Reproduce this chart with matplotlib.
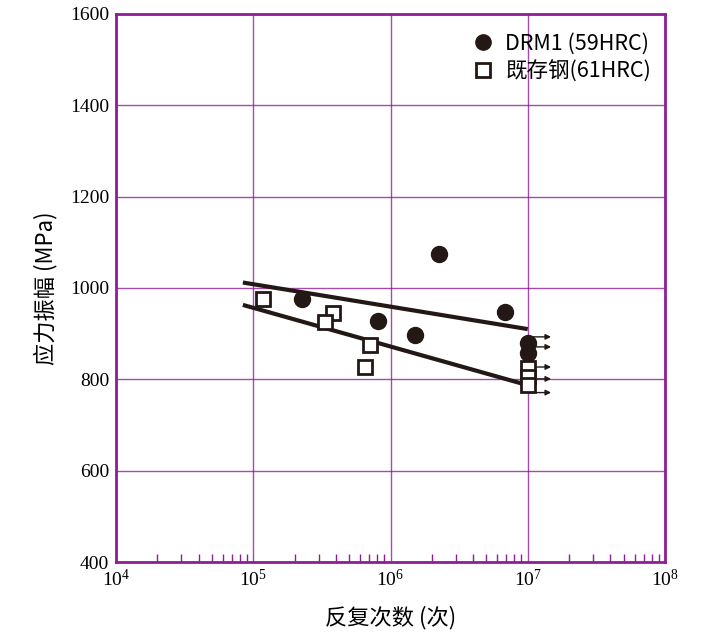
import matplotlib
matplotlib.use("Agg")
import matplotlib.pyplot as plt
import numpy as np
from matplotlib.ticker import LogLocator, FixedLocator, NullFormatter
from matplotlib.lines import Line2D

plt.rcParams['font.family'] = ['Noto Sans CJK SC', 'DejaVu Sans']
plt.rcParams['mathtext.fontset'] = 'stix'

# DRM1 (59HRC)
drm_cycles = [2.27e5, 8.1e5, 1.51e6, 2.25e6, 6.8e6, 1.0e7, 1.0e7]
drm_stress = [976, 928, 897, 1074, 947, 880, 858]
# 既存钢 (61HRC)
old_cycles = [1.18e5, 3.81e5, 3.33e5, 7.1e5, 6.5e5, 1.0e7, 1.0e7, 1.0e7]
old_stress = [976, 945, 925, 875, 827, 825, 805, 787]
# run-outs (arrows) at 1e7
runout_stress = [893, 871, 827, 801, 771]
# fitted lines
drm_fit_x = [8.4e4, 1.0e7]
drm_fit_y = [1012, 910]
old_fit_x = [8.4e4, 9.0e6]
old_fit_y = [963, 791]

legend_labels = ['DRM1 (59HRC)', '既存钢(61HRC)']

purple = '#8e1e96'
ink = '#231815'

fig = plt.figure(figsize=(7.1, 6.39), dpi=100)
ax = fig.add_axes([0.1634, 0.1205, 0.7732, 0.8576])

ax.set_xscale('log')
ax.set_xlim(1e4, 1e8)
ax.set_ylim(400, 1600)

ax.xaxis.set_major_locator(LogLocator(base=10, numticks=10))
ax.xaxis.set_minor_locator(LogLocator(base=10, subs=np.arange(2, 10), numticks=50))
ax.xaxis.set_minor_formatter(NullFormatter())
ax.yaxis.set_major_locator(FixedLocator([400, 600, 800, 1000, 1200, 1400, 1600]))

ax.grid(True, which='major', color=purple, linewidth=1.0, alpha=0.8)
for s in ax.spines.values():
    s.set_color(purple)
    s.set_linewidth(2.0)

ax.tick_params(axis='both', which='major', length=0, labelsize=14,
               labelfontfamily='Liberation Serif')
ax.tick_params(axis='x', which='major', pad=5)
ax.tick_params(axis='y', which='major', pad=5)
ax.tick_params(axis='x', which='minor', direction='in', length=6, width=1, color=purple)

# fitted lines
ax.plot(drm_fit_x, drm_fit_y, color=ink, linewidth=3, solid_capstyle='butt')
ax.plot(old_fit_x, old_fit_y, color=ink, linewidth=3, solid_capstyle='butt')

# run-out arrows
for yv in runout_stress:
    ax.annotate('', xy=(10 ** 7.17, yv), xytext=(1.0e7, yv),
                arrowprops=dict(arrowstyle='-|>', color=ink, lw=1.0,
                                mutation_scale=8, shrinkA=0, shrinkB=0))

ax.plot(drm_cycles, drm_stress, 'o', color=ink, markersize=11.5,
        linestyle='none', zorder=5)
ax.plot(old_cycles, old_stress, 's', markerfacecolor='white', markeredgecolor=ink,
        markeredgewidth=2, markersize=10, linestyle='none', zorder=6)

handles = [
    Line2D([], [], marker='o', color=ink, markersize=11, linestyle='none'),
    Line2D([], [], marker='s', markerfacecolor='white', markeredgecolor=ink,
           markeredgewidth=2, markersize=9.5, linestyle='none'),
]
ax.legend(handles, legend_labels, loc='upper right',
          bbox_to_anchor=(1.0, 0.992), frameon=False, fontsize=15.5,
          handletextpad=0.55, handlelength=1.0, labelspacing=0.3,
          borderaxespad=0.25)

ax.set_xlabel('反复次数 (次)', fontsize=16, labelpad=11)
ax.set_ylabel('应力振幅 (MPa)', fontsize=16, labelpad=9)

fig.savefig('out.png', dpi=100)
